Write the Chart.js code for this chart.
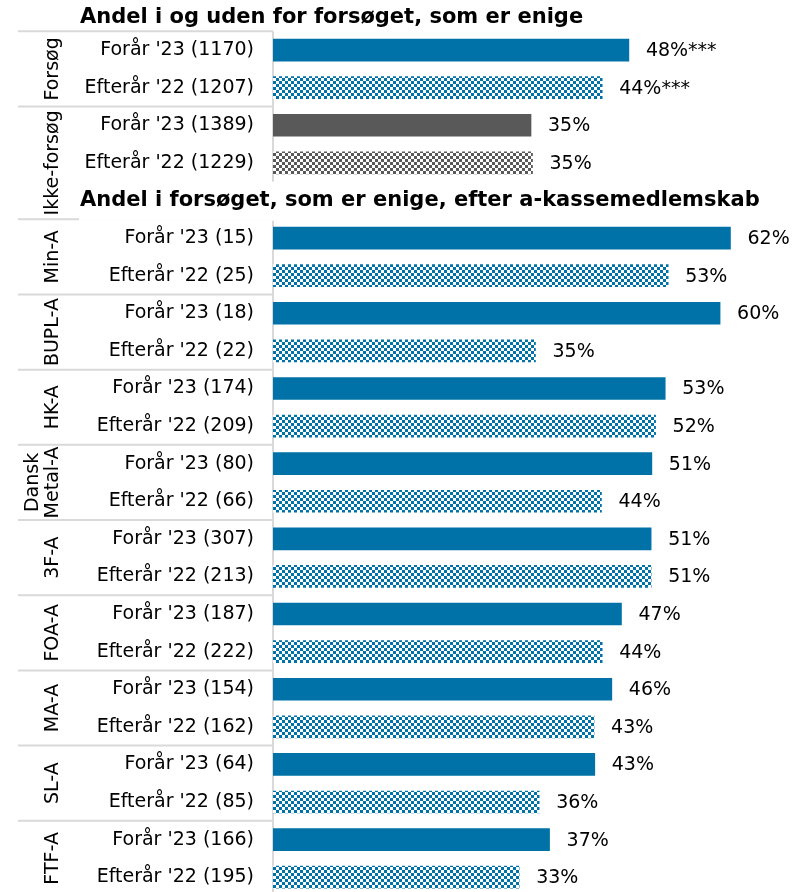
<!DOCTYPE html>
<html lang="da">
<head>
<meta charset="UTF-8">
<title>enige</title>
<style>
  html, body { margin: 0; padding: 0; background: #fff; overflow: hidden; }
  #wrap { position: relative; width: 800px; height: 896px; }
</style>
</head>
<body>
<div id="wrap"><canvas id="chart"></canvas></div>
<script src="https://cdn.jsdelivr.net/npm/chart.js"></script>
<script>
const titles = [
  'Andel i og uden for forsøget, som er enige',
  'Andel i forsøget, som er enige, efter a-kassemedlemskab'
];

// outer category level (the empty row between the two parts belongs to Ikke-forsøg)
const groups = ['Forsøg', 'Ikke-forsøg', 'Min-A', 'BUPL-A', 'HK-A', 'Dansk\nMetal-A',
  '3F-A', 'FOA-A', 'MA-A', 'SL-A', 'FTF-A'];
const groupSizes = [2, 3, 2, 2, 2, 2, 2, 2, 2, 2, 2];

const rowLabels = [
  "Forår '23 (1170)", "Efterår '22 (1207)",
  "Forår '23 (1389)", "Efterår '22 (1229)", '',
  "Forår '23 (15)", "Efterår '22 (25)",
  "Forår '23 (18)", "Efterår '22 (22)",
  "Forår '23 (174)", "Efterår '22 (209)",
  "Forår '23 (80)", "Efterår '22 (66)",
  "Forår '23 (307)", "Efterår '22 (213)",
  "Forår '23 (187)", "Efterår '22 (222)",
  "Forår '23 (154)", "Efterår '22 (162)",
  "Forår '23 (64)", "Efterår '22 (85)",
  "Forår '23 (166)", "Efterår '22 (195)"
];

const shares = [48.0, 44.4, 34.8, 35.0, null,
  61.7, 53.3, 60.3, 35.4, 52.9, 51.6, 51.1, 44.3, 51.0, 51.0,
  47.0, 44.4, 45.7, 43.3, 43.4, 35.9, 37.3, 33.2];

const shareLabels = ['48%***', '44%***', '35%', '35%', '',
  '62%', '53%', '60%', '35%', '53%', '52%', '51%', '44%', '51%', '51%',
  '47%', '44%', '46%', '43%', '43%', '36%', '37%', '33%'];

const BLUE = '#0072a7';
const GREY = '#595959';
const LINE = '#d9d9d9';
const FONT = "'DejaVu Sans', Verdana, sans-serif";

Chart.defaults.font.family = FONT;
Chart.defaults.color = '#000';

const checker = (color) => {
  const c = document.createElement('canvas');
  c.width = 6; c.height = 6;
  const g = c.getContext('2d');
  g.fillStyle = '#fff';
  g.fillRect(0, 0, 6, 6);
  g.fillStyle = color;
  g.fillRect(0, 0, 3, 3);
  g.fillRect(3, 3, 3, 3);
  return g.createPattern(c, 'repeat');
};

const rowGroup = [];
groups.forEach((g, i) => {
  for (let k = 0; k < groupSizes[i]; k++) rowGroup.push(i);
});

const barColors = rowLabels.map((lab, i) => {
  const base = groups[rowGroup[i]] === 'Ikke-forsøg' ? GREY : BLUE;
  return lab.startsWith('Efterår') ? checker(base) : base;
});

const decor = {
  id: 'decor',
  beforeDatasetsDraw(chart) {
    const { ctx, chartArea, scales: { y } } = chart;
    const step = y.getPixelForValue(1) - y.getPixelForValue(0);
    const rowTop = (i) => y.getPixelForValue(i) - step / 2;
    const axisX = chartArea.left;

    ctx.save();
    ctx.strokeStyle = LINE;
    ctx.lineWidth = 2;
    ctx.beginPath();
    ctx.moveTo(axisX, chartArea.top);
    ctx.lineTo(axisX, chartArea.bottom);
    ctx.stroke();

    ctx.fillStyle = '#000';
    ctx.font = '19px ' + FONT;
    ctx.textAlign = 'center';
    ctx.textBaseline = 'middle';
    let start = 0;
    groups.forEach((name, gi) => {
      const y0 = rowTop(start);
      const y1 = rowTop(start + groupSizes[gi]);
      ctx.beginPath();
      ctx.moveTo(18, y0);
      ctx.lineTo(axisX, y0);
      ctx.stroke();

      const lines = name.split('\n');
      lines.forEach((ln, li) => {
        ctx.save();
        ctx.translate(53 - (lines.length - 1 - li) * 20, (y0 + y1) / 2);
        ctx.rotate(-Math.PI / 2);
        ctx.fillText(ln, 0, 0);
        ctx.restore();
      });
      start += groupSizes[gi];
    });
    ctx.restore();
  },
  afterDatasetsDraw(chart) {
    const { ctx, chartArea, scales: { y } } = chart;
    const step = y.getPixelForValue(1) - y.getPixelForValue(0);
    const rowTop = (i) => y.getPixelForValue(i) - step / 2;

    ctx.save();
    ctx.fillStyle = '#000';
    ctx.font = '19px ' + FONT;
    ctx.textAlign = 'left';
    ctx.textBaseline = 'middle';
    chart.getDatasetMeta(0).data.forEach((bar, i) => {
      if (shares[i] == null) return;
      ctx.fillText(shareLabels[i], bar.x + 17, bar.y + 1);
    });

    // second title sits in the empty row and hides the lines behind it
    const blank = rowLabels.indexOf('');
    ctx.fillStyle = '#fff';
    ctx.fillRect(79, rowTop(blank), chart.width - 79, step + 1.5);

    ctx.fillStyle = '#000';
    ctx.font = 'bold 21px ' + FONT;
    ctx.textBaseline = 'alphabetic';
    ctx.fillText(titles[0], 80, chartArea.top - 8);
    ctx.fillText(titles[1], 80, y.getPixelForValue(blank) + 6);
    ctx.restore();
  }
};

new Chart(document.getElementById('chart'), {
  type: 'bar',
  data: {
    labels: rowLabels,
    datasets: [{
      data: shares,
      backgroundColor: barColors,
      borderWidth: 0,
      barThickness: 22
    }]
  },
  options: {
    indexAxis: 'y',
    responsive: true,
    maintainAspectRatio: false,
    animation: false,
    layout: { padding: { top: 31.3, right: 8, bottom: 0, left: 0 } },
    plugins: {
      legend: { display: false },
      tooltip: { enabled: false }
    },
    scales: {
      x: { display: false, min: 0, max: 70 },
      y: {
        grid: { display: false, drawTicks: false },
        border: { display: false },
        ticks: { font: { size: 19 }, color: '#000', padding: 19, autoSkip: false },
        afterFit: (scale) => {
          scale.width = 273;
          scale.paddingTop = 0;
          scale.paddingBottom = 0;
        }
      }
    }
  },
  plugins: [decor]
});
</script>
</body>
</html>
